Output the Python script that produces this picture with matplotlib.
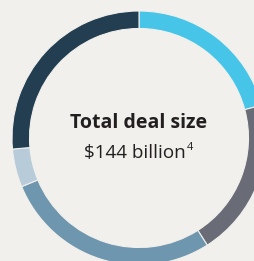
import matplotlib
matplotlib.use("Agg")
import matplotlib.pyplot as plt

segments = ["A", "B", "C", "D", "E"]
values = [30, 29, 40, 7, 38]
colors = ["#46c5e9", "#696b76", "#6e96ae", "#b8cbd8", "#233d51"]
title = "Total deal size"
subtitle = "$144 billion"
footnote = "4"

W, H = 254, 261
fig = plt.figure(figsize=(W / 100, H / 100), dpi=100)
fig.patch.set_facecolor("#f1f0ec")
ax = fig.add_axes([0, 0, 1, 1])

cx, cy, r = 139, H - 138, 127
ax.pie(values, colors=colors, startangle=90, counterclock=False,
       center=(cx, cy), radius=r, frame=True,
       wedgeprops=dict(width=17.5, edgecolor="#f1f0ec", linewidth=0.8))
ax.set_xlim(0, W)
ax.set_ylim(0, H)
ax.set_aspect("equal")
ax.axis("off")

ax.text(cx, H - 123, title, ha="center", va="center", fontsize=14,
        fontweight="bold", color="#231f20", family="Open Sans")
t = ax.text(cx - 4, H - 153, subtitle.replace("$", r"\$"), ha="center", va="center",
            fontsize=13.6, color="#231f20", family="Open Sans")
fig.canvas.draw()
bb = t.get_window_extent(fig.canvas.get_renderer())
ax.text(bb.x1 + 0.5, H - 147, footnote, ha="left", va="center",
        fontsize=8, color="#231f20", family="Open Sans")

fig.savefig("out.png", dpi=100, facecolor=fig.get_facecolor())
